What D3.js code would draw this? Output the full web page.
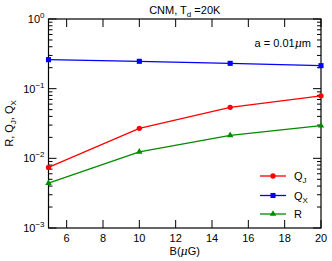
<!DOCTYPE html>
<html>
<head>
<meta charset="utf-8">
<script src="https://cdn.jsdelivr.net/npm/d3@7"></script>
<style>
  body { margin: 0; background: #fff; }
  text { font-family: "Liberation Sans", Arial, sans-serif; fill: #000; }
</style>
</head>
<body>
<div id="chart"></div>
<script>
// data
const bValues = [5, 10, 15, 20];
const qJ = [0.0074, 0.027, 0.054, 0.079];
const qX = [0.261, 0.247, 0.231, 0.214];
const rVals = [0.0044, 0.0124, 0.0214, 0.0295];
const xTicks = [6, 8, 10, 12, 14, 16, 18, 20];
const yDecades = [0, -1, -2, -3];

const W = 332, H = 261;
const margin = { top: 19, right: 11, bottom: 33, left: 48.5 };
const width = W - margin.left - margin.right;
const height = H - margin.top - margin.bottom;

const svg = d3.select("#chart").append("svg")
    .attr("width", W).attr("height", H);
const g = svg.append("g")
    .attr("transform", "translate(" + margin.left + "," + margin.top + ")");

const x = d3.scaleLinear().domain([5, 20]).range([0, width]);
const y = d3.scaleLog().domain([1e-3, 1]).range([height, 0]);

// y minor ticks
const minor = [];
[-3, -2, -1].forEach(e => { for (let k = 2; k <= 9; k++) minor.push(k * Math.pow(10, e)); });

const tickG = g.append("g").attr("stroke", "#000").attr("stroke-width", 1);
minor.forEach(v => {
    tickG.append("line").attr("x1", 0).attr("x2", 4).attr("y1", y(v)).attr("y2", y(v));
    tickG.append("line").attr("x1", width).attr("x2", width - 4).attr("y1", y(v)).attr("y2", y(v));
});
yDecades.forEach(e => {
    const v = Math.pow(10, e);
    tickG.append("line").attr("x1", 0).attr("x2", 8).attr("y1", y(v)).attr("y2", y(v));
    tickG.append("line").attr("x1", width).attr("x2", width - 8).attr("y1", y(v)).attr("y2", y(v));
});
xTicks.forEach(t => {
    tickG.append("line").attr("x1", x(t)).attr("x2", x(t)).attr("y1", height).attr("y2", height - 8);
    tickG.append("line").attr("x1", x(t)).attr("x2", x(t)).attr("y1", 0).attr("y2", 8);
});

g.append("rect").attr("width", width).attr("height", height)
    .attr("fill", "none").attr("stroke", "#000").attr("stroke-width", 1.2);

// tick labels
g.selectAll(".xl").data(xTicks).enter().append("text")
    .attr("x", d => x(d)).attr("y", height + 14)
    .attr("text-anchor", "middle").style("font-size", "11px").text(d => d);

yDecades.forEach(e => {
    const t = g.append("text").attr("x", -4).attr("y", y(Math.pow(10, e)) + 4)
        .attr("text-anchor", "end").style("font-size", "11px");
    t.append("tspan").text("10");
    t.append("tspan").attr("dy", -5).style("font-size", "8px").text(e === 0 ? "0" : "\u2212" + (-e));
});

// axis titles
const xt = g.append("text").attr("x", width / 2).attr("y", height + 27)
    .attr("text-anchor", "middle").style("font-size", "11px");
xt.append("tspan").text("B(");
xt.append("tspan").style("font-style", "italic").style("font-family", "DejaVu Serif").text("\u03bc");
xt.append("tspan").text("G)");

const yt = g.append("text")
    .attr("transform", "translate(" + (-36) + "," + (height / 2) + ") rotate(-90)")
    .attr("text-anchor", "middle").style("font-size", "11px");
yt.append("tspan").text("R, Q");
yt.append("tspan").attr("dy", 3).style("font-size", "8px").text("J");
yt.append("tspan").attr("dy", -3).text(", Q");
yt.append("tspan").attr("dy", 3).style("font-size", "8px").text("X");

// title
const tt = svg.append("text").attr("x", margin.left + width / 2).attr("y", 14)
    .attr("text-anchor", "middle").style("font-size", "11px");
tt.append("tspan").text("CNM, T");
tt.append("tspan").attr("dy", 3).style("font-size", "8px").text("d");
tt.append("tspan").attr("dy", -3).text(" =20K");

// annotation
const an = g.append("text").attr("x", width - 10).attr("y", 28)
    .attr("text-anchor", "end").style("font-size", "11px");
an.append("tspan").text("a = 0.01");
an.append("tspan").style("font-style", "italic").style("font-family", "DejaVu Serif").text("\u03bc");
an.append("tspan").text("m");

const series = [
    { name: "J", vals: qJ, color: "#ff0000", marker: "circle" },
    { name: "X", vals: qX, color: "#0000ff", marker: "square" },
    { name: "R", vals: rVals, color: "#008a00", marker: "triangle" }
];

const line = d3.line().x(d => x(d[0])).y(d => y(d[1]));
const symbolOf = m => m === "circle" ? d3.symbol(d3.symbolCircle, 22)
    : m === "square" ? d3.symbol(d3.symbolSquare, 26) : d3.symbol(d3.symbolTriangle, 18);

series.forEach(s => {
    const pts = bValues.map((b, i) => [b, s.vals[i]]);
    g.append("path").datum(pts).attr("d", line)
        .attr("fill", "none").attr("stroke", s.color).attr("stroke-width", 1.3);
    g.selectAll(null).data(pts).enter().append("path")
        .attr("transform", d => "translate(" + x(d[0]) + "," + y(d[1]) + ")")
        .attr("d", symbolOf(s.marker)).attr("fill", s.color);
});

// legend
const legY = [176, 195.5, 214];
series.forEach((s, i) => {
    const ly = legY[i] - margin.top;
    const lx0 = 260 - margin.left, lx1 = 286 - margin.left;
    g.append("line").attr("x1", lx0).attr("x2", lx1).attr("y1", ly).attr("y2", ly)
        .attr("stroke", s.color).attr("stroke-width", 1.3);
    g.append("path").attr("transform", "translate(" + (lx0 + lx1) / 2 + "," + ly + ")")
        .attr("d", symbolOf(s.marker)).attr("fill", s.color);
    const lt = g.append("text").attr("x", 294 - margin.left).attr("y", ly + 4)
        .style("font-size", "11px");
    if (s.name === "R") {
        lt.text("R");
    } else {
        lt.append("tspan").text("Q");
        lt.append("tspan").attr("dy", 3).style("font-size", "8px").text(s.name);
    }
});
</script>
</body>
</html>
